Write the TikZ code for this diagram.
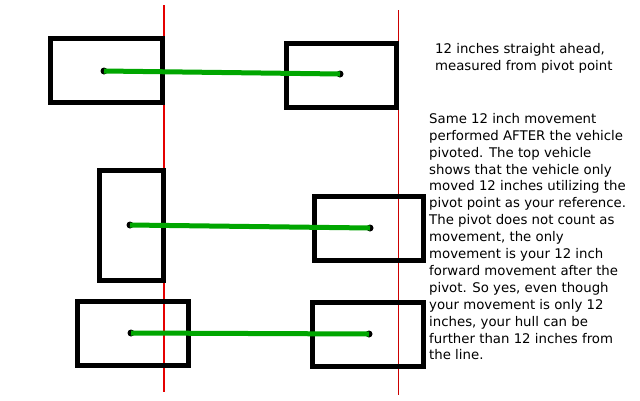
\documentclass[tikz,border=0pt]{standalone}
\usepackage{fontspec}
\setmainfont{DejaVu Sans}
\usetikzlibrary{positioning}
\begin{document}
\begin{tikzpicture}[
                x=1pt,y=-1pt,
                vehicle/.style={draw=black,line width=5pt},
                pivot/.style={circle,fill=black,inner sep=0pt,minimum size=7pt},
                path/.style={draw=green!65!black,line width=5pt},
                note/.style={align=left,anchor=north west,inner sep=0pt,font=\fontsize{13.3}{16.9}\selectfont}
            ]
                \useasboundingbox[fill=white] (0,0) rectangle (640,400);
                % reference lines
                \draw[red!90!black,line width=2.8pt] (164,5) -- (164,392);
                \draw[red!80!black,line width=0.8pt] (398,10) -- (398,395);
                % vehicles
                \draw[vehicle] (50,38) rectangle (162,102);
                \draw[vehicle] (286,43) rectangle (396,107);
                \draw[vehicle] (99,170) rectangle (163,280);
                \draw[vehicle] (314,196) rectangle (423,260);
                \draw[vehicle] (77,301) rectangle (188,365);
                \draw[vehicle] (312,302) rectangle (423,366);
                % pivot points
                \node[pivot] (p1) at (104,71) {};
                \node[pivot] (q1) at (340,74) {};
                \node[pivot] (p2) at (130,225) {};
                \node[pivot] (q2) at (370,228) {};
                \node[pivot] (p3) at (131,333) {};
                \node[pivot] (q3) at (369,334) {};
                % movements
                \draw[path] (p1.center) -- (q1.center);
                \draw[path] (p2.center) -- (q2.center);
                \draw[path] (p3.center) -- (q3.center);
                % notes
                \node[note] (n1) at (435,43) {12 inches straight ahead,\\measured from pivot point};
                \node[note] (n2) at (429,113) {Same 12 inch movement\\performed AFTER the vehicle\\pivoted. The top vehicle\\shows that the vehicle only\\moved 12 inches utilizing the\\pivot point as your reference.\\The pivot does not count as\\movement, the only\\movement is your 12 inch\\forward movement after the\\pivot. So yes, even though\\your movement is only 12\\inches, your hull can be\\further than 12 inches from\\the line.};
            \end{tikzpicture}
\end{document}
